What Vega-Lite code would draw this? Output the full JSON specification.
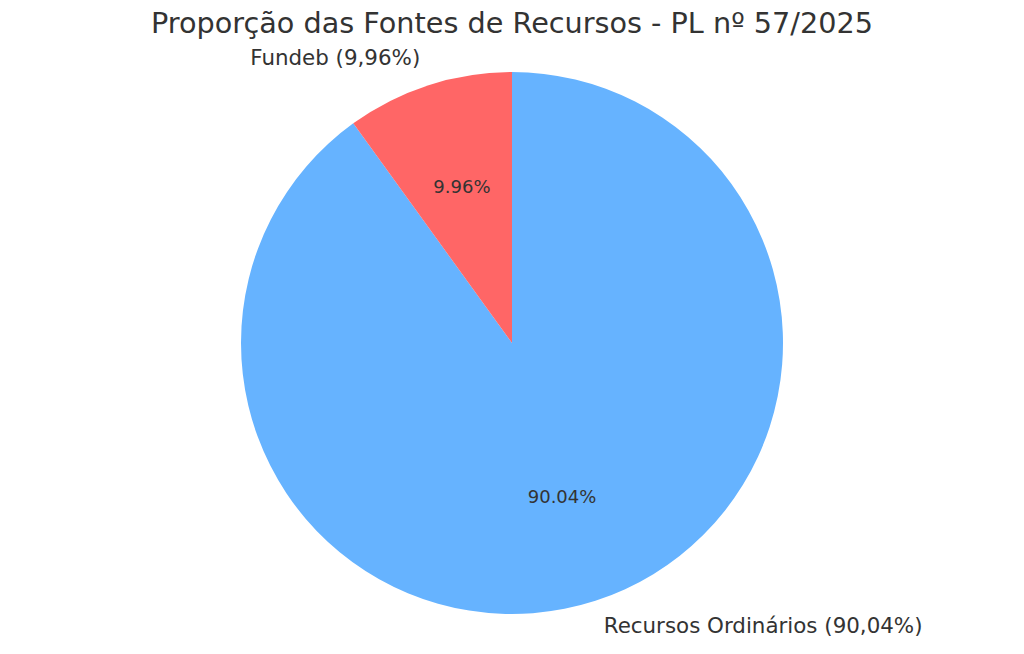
{
  "$schema": "https://vega.github.io/schema/vega-lite/v6.json",
  "width": 1024,
  "height": 566,
  "autosize": {"type": "none"},
  "padding": {"top": 60, "left": 0, "right": 0, "bottom": 28},
  "background": "white",
  "title": {
    "text": "Proporção das Fontes de Recursos - PL nº 57/2025",
    "font": "DejaVu Sans",
    "fontSize": 28.7,
    "fontWeight": "normal",
    "color": "#333333",
    "anchor": "middle",
    "baseline": "alphabetic",
    "offset": 25,
    "dy": 38
  },
  "data": {
    "values": [
      {"fonte": "Recursos Ordinários", "pct": 90.04, "ordem": 1, "interno": "90.04%", "externo": "Recursos Ordinários (90,04%)"},
      {"fonte": "Fundeb", "pct": 9.96, "ordem": 2, "interno": "9.96%", "externo": "Fundeb (9,96%)"}
    ]
  },
  "encoding": {
    "theta": {"field": "pct", "type": "quantitative", "stack": true},
    "order": {"field": "ordem", "type": "quantitative"}
  },
  "layer": [
    {
      "mark": {"type": "arc", "radius": 271, "stroke": null},
      "encoding": {
        "color": {
          "field": "fonte",
          "type": "nominal",
          "scale": {"domain": ["Recursos Ordinários", "Fundeb"], "range": ["#66b3ff", "#ff6666"]},
          "legend": null
        }
      }
    },
    {
      "mark": {"type": "text", "radius": 162.6, "font": "DejaVu Sans", "fontSize": 18, "color": "#333333", "baseline": "middle", "align": "center"},
      "encoding": {"text": {"field": "interno", "type": "nominal"}}
    },
    {
      "mark": {"type": "text", "radius": 298, "font": "DejaVu Sans", "fontSize": 21.4, "color": "#333333", "baseline": "middle", "align": "right"},
      "encoding": {
        "text": {"condition": {"test": "datum.fonte === 'Fundeb'", "field": "externo"}, "value": ""}
      }
    },
    {
      "mark": {"type": "text", "radius": 298, "font": "DejaVu Sans", "fontSize": 21.4, "color": "#333333", "baseline": "middle", "align": "left"},
      "encoding": {
        "text": {"condition": {"test": "datum.fonte === 'Recursos Ordinários'", "field": "externo"}, "value": ""}
      }
    }
  ]
}
